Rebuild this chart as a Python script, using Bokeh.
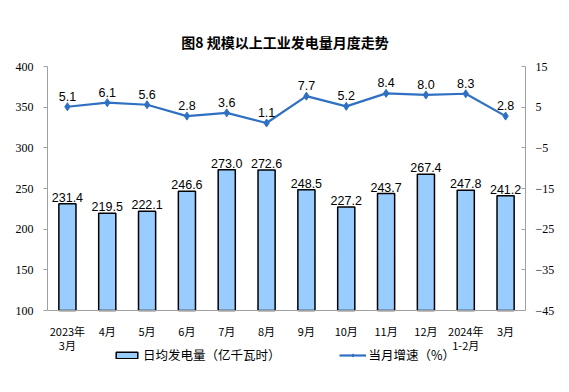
from bokeh.plotting import figure
from bokeh.models import (Range1d, LinearAxis, FixedTicker, ColumnDataSource, Legend, LegendItem, Title)
from bokeh.embed import file_html
from bokeh.resources import INLINE

months = ["2023年\n3月", "4月", "5月", "6月", "7月", "8月", "9月", "10月", "11月", "12月", "2024年\n1-2月", "3月"]
output = [231.4, 219.5, 222.1, 246.6, 273.0, 272.6, 248.5, 227.2, 243.7, 267.4, 247.8, 241.2]
growth = [5.1, 6.1, 5.6, 2.8, 3.6, 1.1, 7.7, 5.2, 8.4, 8.0, 8.3, 2.8]
left_ticks = [100, 150, 200, 250, 300, 350, 400]
right_ticks = [-45, -35, -25, -15, -5, 5, 15]

xs = list(range(len(months)))
src = ColumnDataSource(dict(
    x=xs, out=output, g=growth,
    out_lbl=[f"{v:.1f}" for v in output],
    g_lbl=[f"{v:.1f}" for v in growth],
))

# plotting area of 244 px for the axes, plus extra room below for the legend
axis_px = 244
extra_px = 56
l_lo, l_hi = left_ticks[0], left_ticks[-1]
r_lo, r_hi = right_ticks[0], right_ticks[-1]
l_start = l_lo - extra_px * (l_hi - l_lo) / axis_px
r_start = r_lo - extra_px * (r_hi - r_lo) / axis_px

p = figure(frame_width=478, frame_height=axis_px + extra_px, output_backend="svg",
           toolbar_location=None,
           x_range=Range1d(-0.5, len(months) - 0.5), y_range=Range1d(l_start, l_hi),
           min_border_left=47, min_border_right=35, min_border_top=66, min_border_bottom=0)
p.extra_y_ranges = {"g": Range1d(r_start, r_hi)}
p.outline_line_color = None
p.xgrid.visible = False
p.ygrid.visible = False
p.background_fill_color = "white"

p.title = Title(text="图8  规模以上工业发电量月度走势", align="center",
                text_font="Noto Sans CJK SC", text_font_size="14px", text_font_style="bold",
                text_color="#000000", standoff=29)

bars = p.vbar(x="x", top="out", bottom=l_lo, width=0.43, source=src,
              fill_color="#99CCFF", line_color="#000000", line_width=1.5)
line = p.line(x="x", y="g", source=src, y_range_name="g", line_color="#2F70C2", line_width=2.2)
pts = p.scatter(x="x", y="g", source=src, y_range_name="g", marker="diamond", size=8,
                fill_color="#2F70C2", line_color="#2F70C2")

p.text(x="x", y="out", text="out_lbl", source=src, text_align="center", text_baseline="bottom",
       y_offset=-2, text_font_size="12.5px", text_color="#000000")
p.text(x="x", y="g", text="g_lbl", source=src, y_range_name="g", text_align="center",
       text_baseline="bottom", y_offset=-6, text_font_size="12.5px", text_color="#000000")

ax = p.xaxis[0]
ax.fixed_location = l_lo
ax.ticker = FixedTicker(ticks=xs)
ax.major_label_overrides = {i: m for i, m in enumerate(months)}
ax.major_tick_line_color = None
ax.minor_tick_line_color = None
ax.axis_line_color = "#A0A0A0"
ax.major_label_text_font = "Noto Sans CJK SC"
ax.major_label_text_font_size = "11px"
ax.major_label_text_line_height = 0.9
ax.major_label_text_color = "#000000"
ax.major_label_standoff = 6

ly = p.yaxis[0]
ly.bounds = (l_lo, l_hi)
ly.ticker = FixedTicker(ticks=left_ticks)
ly.axis_line_color = "#A0A0A0"
ly.major_tick_line_color = "#A0A0A0"
ly.major_tick_out = 4
ly.major_tick_in = 0
ly.minor_tick_line_color = None
ly.major_label_text_font = "Liberation Serif"
ly.major_label_text_font_size = "12px"
ly.major_label_text_color = "#000000"
ly.major_label_standoff = 10

ry = LinearAxis(y_range_name="g", ticker=FixedTicker(ticks=right_ticks), bounds=(r_lo, r_hi))
ry.axis_line_color = "#A0A0A0"
ry.major_tick_line_color = "#A0A0A0"
ry.major_tick_out = 0
ry.major_tick_in = 4
ry.minor_tick_line_color = None
ry.major_label_text_font = "Liberation Serif"
ry.major_label_text_font_size = "12px"
ry.major_label_text_color = "#000000"
ry.major_label_standoff = 10
p.add_layout(ry, "right")

legend = Legend(items=[LegendItem(label="日均发电量（亿千瓦时）", renderers=[bars]),
                       LegendItem(label="当月增速（%）", renderers=[line, pts])],
                orientation="horizontal", location=(66, 2), spacing=58,
                label_text_font="Noto Sans CJK SC", label_text_font_size="12.5px",
                label_text_color="#000000",
                label_standoff=3, glyph_width=27, glyph_height=8, border_line_color=None,
                background_fill_alpha=0, margin=0, padding=2)
p.add_layout(legend, "center")

open("out.html", "w").write(file_html(p, INLINE))
